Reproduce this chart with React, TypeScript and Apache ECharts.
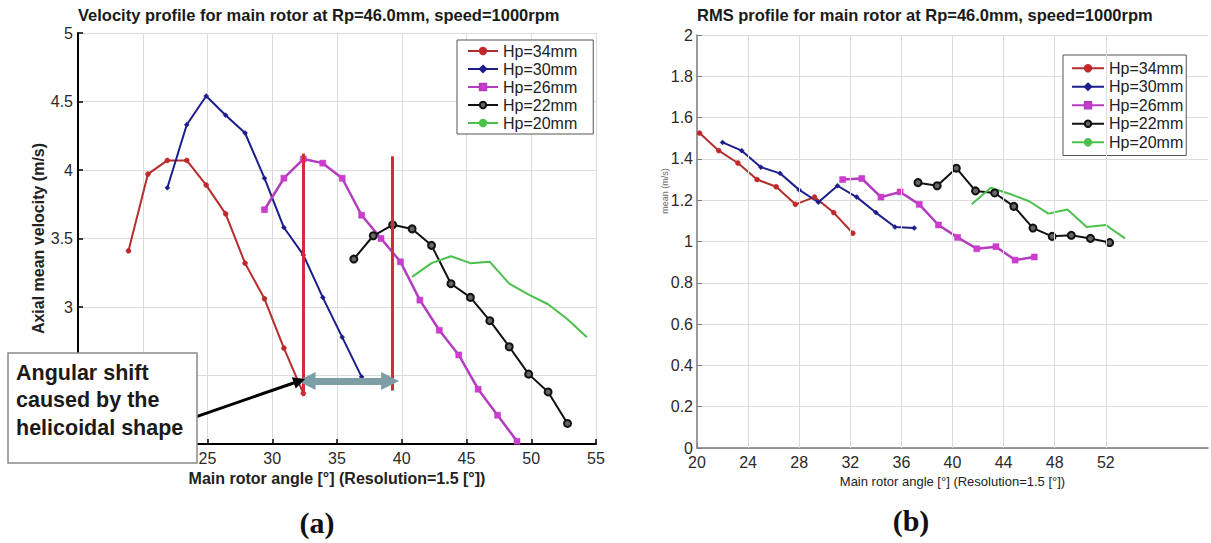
import React, { useEffect, useRef } from 'react';
import * as echarts from 'echarts';

// ---------- data ----------
const seriesNames = ['Hp=34mm', 'Hp=30mm', 'Hp=26mm', 'Hp=22mm', 'Hp=20mm'];

// (a) Axial mean velocity (m/s) vs main rotor angle
const velX34 = [18.9, 20.4, 21.9, 23.4, 24.9, 26.4, 27.9, 29.4, 30.9, 32.4];
const velY34 = [3.41, 3.97, 4.07, 4.07, 3.89, 3.68, 3.32, 3.06, 2.7, 2.37];
const velX30 = [21.9, 23.4, 24.9, 26.4, 27.9, 29.4, 30.9, 32.4, 33.9, 35.4, 36.9];
const velY30 = [3.87, 4.33, 4.54, 4.4, 4.27, 3.94, 3.58, 3.38, 3.07, 2.78, 2.49];
const velX26 = [29.4, 30.9, 32.4, 33.9, 35.4, 36.9, 38.4, 39.9, 41.4, 42.9, 44.4, 45.9, 47.4, 48.9];
const velY26 = [3.71, 3.94, 4.08, 4.05, 3.94, 3.67, 3.5, 3.33, 3.05, 2.83, 2.65, 2.4, 2.21, 2.02];
const velX22 = [36.3, 37.8, 39.3, 40.8, 42.3, 43.8, 45.3, 46.8, 48.3, 49.8, 51.3, 52.8];
const velY22 = [3.35, 3.52, 3.6, 3.57, 3.45, 3.17, 3.07, 2.9, 2.71, 2.51, 2.38, 2.15];
const velX20 = [40.8, 42.3, 43.8, 45.3, 46.8, 48.3, 49.8, 51.3, 52.8, 54.3];
const velY20 = [3.22, 3.32, 3.37, 3.32, 3.33, 3.17, 3.09, 3.02, 2.91, 2.78];

// (b) RMS profile
const rmsX34 = [20.2, 21.7, 23.2, 24.7, 26.2, 27.7, 29.2, 30.7, 32.2];
const rmsY34 = [1.525, 1.44, 1.38, 1.3, 1.265, 1.18, 1.215, 1.14, 1.04];
const rmsX30 = [22.0, 23.5, 25.0, 26.5, 28.0, 29.5, 31.0, 32.5, 34.0, 35.5, 37.0];
const rmsY30 = [1.48, 1.44, 1.36, 1.33, 1.25, 1.19, 1.27, 1.215, 1.14, 1.07, 1.065];
const rmsX26 = [31.4, 32.9, 34.4, 35.9, 37.4, 38.9, 40.4, 41.9, 43.4, 44.9, 46.4];
const rmsY26 = [1.3, 1.305, 1.215, 1.24, 1.18, 1.08, 1.02, 0.965, 0.975, 0.91, 0.925];
const rmsX22 = [37.3, 38.8, 40.3, 41.8, 43.3, 44.8, 46.3, 47.8, 49.3, 50.8, 52.3];
const rmsY22 = [1.285, 1.27, 1.355, 1.245, 1.235, 1.17, 1.065, 1.025, 1.03, 1.015, 0.995];
const rmsX20 = [41.5, 43.0, 44.5, 46.0, 47.5, 49.0, 50.5, 52.0, 53.5];
const rmsY20 = [1.18, 1.26, 1.23, 1.195, 1.135, 1.155, 1.07, 1.08, 1.015];

// axes ticks
const rmsXTicks = [20, 24, 28, 32, 36, 40, 44, 48, 52];
const velXHiddenLabels = [15, 20]; // covered by the annotation box
const velYHiddenLabels = [2, 2.5];

// annotations of (a), in data units
const shiftLineX = [32.4, 39.25];
const shiftLineTop = [4.12, 4.1];
const shiftLineBottom = [2.35, 2.39];
const shiftArrowX = [32.65, 39.1];
const shiftArrowY = 2.46;
const noteArrowFrom = [24.15, 2.2];
const noteArrowTo = [32.1, 2.46];

// ---------- styles ----------
const FONT = 'Liberation Sans, Arial, sans-serif';
const looks = [
  { symbol: 'circle', size: 5, color: '#c0282c', border: '#c0282c', line: '#b52d2d' },
  { symbol: 'diamond', size: 5, color: '#1d1d8c', border: '#1d1d8c', line: '#1d1d8c' },
  { symbol: 'rect', size: 6, color: '#d13ad1', border: '#b43cbf', line: '#b43cbf' },
  { symbol: 'circle', size: 7, color: '#666', border: '#111', line: '#111' },
  { symbol: 'none', size: 0, color: '#4cc04c', border: '#4cc04c', line: '#4cc04c' },
];

const zip = (xs: number[], ys: number[]) => xs.map((x, i) => [x, ys[i]]);

function mkSeries(idx: number, xs: number[], ys: number[], axis: number) {
  const lk = looks[idx];
  return {
    name: seriesNames[idx],
    type: 'line',
    xAxisIndex: axis,
    yAxisIndex: axis,
    data: zip(xs, ys),
    symbol: lk.symbol,
    symbolSize: lk.size,
    showSymbol: lk.symbol !== 'none',
    itemStyle: { color: lk.color, borderColor: lk.border, borderWidth: idx === 3 ? 2 : 0.5 },
    lineStyle: { color: lk.line, width: idx === 2 ? 2.5 : 2 },
    z: 3,
  };
}

export default function App() {
  const ref = useRef<HTMLDivElement>(null);
  useEffect(() => {
    document.body.style.margin = '0';
    const chart = echarts.init(ref.current!, undefined, { renderer: 'svg' });

    const axisLabelStyle = { fontSize: 16, color: '#2a2a2a', fontFamily: FONT };
    const legendCommon = {
      orient: 'vertical',
      data: seriesNames,
      selectedMode: false,
      backgroundColor: '#fff',
      borderColor: '#555',
      borderWidth: 1,
      borderRadius: 0,
      itemHeight: 8,
      itemGap: 0,
      textStyle: { fontSize: 16, color: '#222', fontFamily: FONT, lineHeight: 18 },
    };
    const titleStyle = { fontSize: 16.5, fontWeight: 'bold', color: '#1a1a1a', fontFamily: FONT };

    const option: any = {
      animation: false,
      backgroundColor: '#fff',
      textStyle: { fontFamily: FONT },
      title: [
        {
          text: 'Velocity profile for main rotor at Rp=46.0mm, speed=1000rpm',
          left: 78, top: 6, padding: 0, textStyle: titleStyle,
        },
        {
          text: 'RMS profile for main rotor at Rp=46.0mm, speed=1000rpm',
          left: 697, top: 6, padding: 0, textStyle: titleStyle,
        },
      ],
      legend: [
        { ...legendCommon, left: 457, top: 40, padding: [2, 16, 2, 10], itemWidth: 30 },
        { ...legendCommon, left: 1063, top: 55, padding: [4, 3, 4, 8], itemWidth: 32,
          textStyle: { ...legendCommon.textStyle, lineHeight: 18.5 } },
      ],
      grid: [
        { left: 78, top: 33, width: 518, height: 411, outerBoundsMode: 'none' },
        { left: 697, top: 35, width: 511, height: 413, outerBoundsMode: 'none' },
      ],
      xAxis: [
        {
          type: 'value', gridIndex: 0, min: 15, max: 55, interval: 5,
          axisLine: { show: true, onZero: false, lineStyle: { color: '#000', width: 2 } },
          axisTick: { show: true, inside: true, length: 5, lineStyle: { color: '#000', width: 1.5 } },
          axisLabel: { ...axisLabelStyle, margin: 6,
            formatter: (v: number) => (velXHiddenLabels.includes(v) ? '' : String(v)) },
          splitLine: { show: true, lineStyle: { color: '#dcdcdc', width: 1 } },
          name: 'Main rotor angle [°] (Resolution=1.5 [°])',
          nameLocation: 'middle', nameGap: 26,
          nameTextStyle: { fontSize: 16, fontWeight: 'bold', color: '#222', fontFamily: FONT },
        },
        {
          type: 'value', gridIndex: 1, min: 20, max: 60, interval: 4,
          axisLine: { show: true, onZero: false, lineStyle: { color: '#7a7a7a', width: 1.5 } },
          axisTick: { show: true, inside: true, length: 5, lineStyle: { color: '#7a7a7a' }, customValues: rmsXTicks },
          axisLabel: { ...axisLabelStyle, margin: 6, customValues: rmsXTicks,
            formatter: (v: number) => (v <= 52 ? String(v) : '') },
          splitLine: { show: false },
          name: 'Main rotor angle [°] (Resolution=1.5 [°])',
          nameLocation: 'middle', nameGap: 23,
          nameTextStyle: { fontSize: 13, color: '#222', fontFamily: FONT },
        },
      ],
      yAxis: [
        {
          type: 'value', gridIndex: 0, min: 2, max: 5, interval: 0.5,
          axisLine: { show: true, onZero: false, lineStyle: { color: '#000', width: 2 } },
          axisTick: { show: true, inside: true, length: 5, lineStyle: { color: '#000', width: 1.5 } },
          axisLabel: { ...axisLabelStyle, margin: 5,
            formatter: (v: number) => (velYHiddenLabels.includes(v) ? '' : String(v)) },
          splitLine: { show: true, lineStyle: { color: '#dcdcdc', width: 1 } },
          name: 'Axial mean velocity (m/s)',
          nameLocation: 'middle', nameGap: 25,
          nameTextStyle: { fontSize: 16, fontWeight: 'bold', color: '#222', fontFamily: FONT },
        },
        {
          type: 'value', gridIndex: 1, min: 0, max: 2, interval: 0.2,
          axisLine: { show: true, onZero: false, lineStyle: { color: '#7a7a7a', width: 1.5 } },
          axisTick: { show: true, inside: true, length: 5, lineStyle: { color: '#7a7a7a' } },
          axisLabel: { ...axisLabelStyle, margin: 4 },
          splitLine: { show: true, lineStyle: { color: '#dcdcdc', width: 1 } },
        },
      ],
      series: [
        {
          name: 'rms-grid', type: 'line', xAxisIndex: 1, yAxisIndex: 1, data: [], silent: true, z: 1,
          markLine: {
            silent: true, symbol: 'none', label: { show: false }, animation: false,
            lineStyle: { color: '#dcdcdc', width: 1, type: 'solid' },
            data: rmsXTicks.slice(1).map((v) => ({ xAxis: v })),
          },
        },
        mkSeries(0, velX34, velY34, 0),
        mkSeries(1, velX30, velY30, 0),
        mkSeries(2, velX26, velY26, 0),
        mkSeries(3, velX22, velY22, 0),
        mkSeries(4, velX20, velY20, 0),
        mkSeries(0, rmsX34, rmsY34, 1),
        mkSeries(1, rmsX30, rmsY30, 1),
        mkSeries(2, rmsX26, rmsY26, 1),
        mkSeries(3, rmsX22, rmsY22, 1),
        mkSeries(4, rmsX20, rmsY20, 1),
        {
          name: 'shift-lines', type: 'line', xAxisIndex: 0, yAxisIndex: 0, data: [], silent: true, z: 5,
          markLine: {
            silent: true, symbol: 'none', label: { show: false }, animation: false,
            lineStyle: { color: '#d42a3a', width: 3, type: 'solid' },
            data: shiftLineX.map((x, i) => [{ coord: [x, shiftLineTop[i]] }, { coord: [x, shiftLineBottom[i]] }]),
          },
        },
        {
          name: 'shift-arrow', type: 'line', xAxisIndex: 0, yAxisIndex: 0, data: [], silent: true, z: 5,
          markLine: {
            silent: true, symbol: ['triangle', 'triangle'], symbolSize: 18, label: { show: false }, animation: false,
            lineStyle: { color: '#7d9ea5', width: 7, type: 'solid' },
            itemStyle: { color: '#7d9ea5' },
            data: [[{ coord: [shiftArrowX[0], shiftArrowY] }, { coord: [shiftArrowX[1], shiftArrowY] }]],
          },
        },
        {
          name: 'note-arrow', type: 'line', xAxisIndex: 0, yAxisIndex: 0, data: [], silent: true, z: 6,
          markLine: {
            silent: true, symbol: ['none', 'triangle'], symbolSize: 12, label: { show: false }, animation: false,
            lineStyle: { color: '#000', width: 3, type: 'solid' },
            itemStyle: { color: '#000' },
            data: [[{ coord: noteArrowFrom }, { coord: noteArrowTo }]],
          },
        },
      ],
      graphic: {
        z: 100,
        elements: [
          {
            type: 'rect', z: 100,
            shape: { x: 8, y: 353, width: 189, height: 110 },
            style: { fill: '#fff', stroke: '#8a8a8a', lineWidth: 1.5 },
          },
          {
            type: 'text', z: 101, x: 16, y: 359,
            style: {
              text: 'Angular shift\ncaused by the\nhelicoidal shape',
              fontSize: 21.5, fontWeight: 'bold', fontFamily: FONT, fill: '#1a1a1a', lineHeight: 27.5,
            },
          },
          {
            type: 'text', z: 101, x: 317, y: 522,
            style: {
              text: '(a)', fontSize: 30, fontWeight: 'bold', fontFamily: 'Liberation Serif, Times New Roman, serif',
              fill: '#111', align: 'center', verticalAlign: 'middle', textAlign: 'center', textVerticalAlign: 'middle',
            },
          },
          {
            type: 'text', z: 101, x: 911, y: 520,
            style: {
              text: '(b)', fontSize: 30, fontWeight: 'bold', fontFamily: 'Liberation Serif, Times New Roman, serif',
              fill: '#111', align: 'center', verticalAlign: 'middle', textAlign: 'center', textVerticalAlign: 'middle',
            },
          },
          {
            type: 'text', z: 101, x: 665, y: 191, rotation: Math.PI / 2,
            style: {
              text: 'mean (m/s)', fontSize: 9, fontFamily: FONT, fill: '#666',
              align: 'center', verticalAlign: 'middle', textAlign: 'center', textVerticalAlign: 'middle',
            },
          },
        ],
      },
    };

    chart.setOption(option);
    return () => chart.dispose();
  }, []);

  return <div ref={ref} style={{ position: 'absolute', left: 0, top: 0, width: 1211, height: 543 }} />;
}
